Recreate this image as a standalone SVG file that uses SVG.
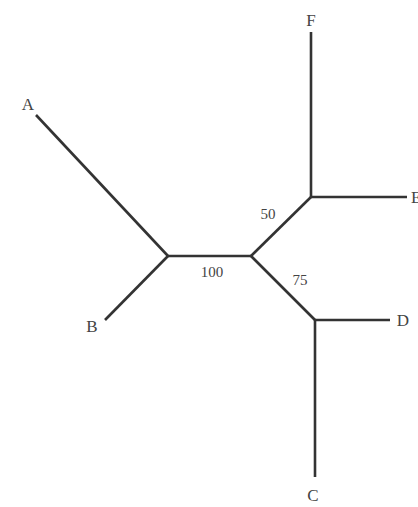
<svg xmlns="http://www.w3.org/2000/svg" width="418" height="507" viewBox="0 0 418 507">
<style>
.e{stroke:#333;stroke-width:2.6;fill:none;stroke-linecap:butt}
.l{font-family:"Liberation Serif",serif;font-size:17px;fill:#444}
.n{font-family:"Liberation Serif",serif;font-size:15px;fill:#444}
</style>
<rect width="418" height="507" fill="#fff"/>
<g id="connectors">
<path class="e" d="M36,115 L168,256"/>
<path class="e" d="M168,256 L105,320"/>
<path class="e" d="M168,256 L251,256"/>
<path class="e" d="M251,256 L311,197"/>
<path class="e" d="M311,197 L311,32"/>
<path class="e" d="M311,197 L407,197"/>
<path class="e" d="M251,256 L315,320"/>
<path class="e" d="M315,320 L390,320"/>
<path class="e" d="M315,320 L315,477"/>
</g>
<g id="A"><text class="l" x="28" y="110" text-anchor="middle">A</text></g>
<g id="B"><text class="l" x="92" y="332" text-anchor="middle">B</text></g>
<g id="F"><text class="l" x="311" y="26" text-anchor="middle">F</text></g>
<g id="E"><text class="l" x="411" y="203">E</text></g>
<g id="D"><text class="l" x="403" y="326" text-anchor="middle">D</text></g>
<g id="C"><text class="l" x="313" y="501" text-anchor="middle">C</text></g>
<g id="labels">
<text class="n" x="212" y="277" text-anchor="middle">100</text>
<text class="n" x="268" y="219" text-anchor="middle">50</text>
<text class="n" x="300" y="285" text-anchor="middle">75</text>
</g>
</svg>
